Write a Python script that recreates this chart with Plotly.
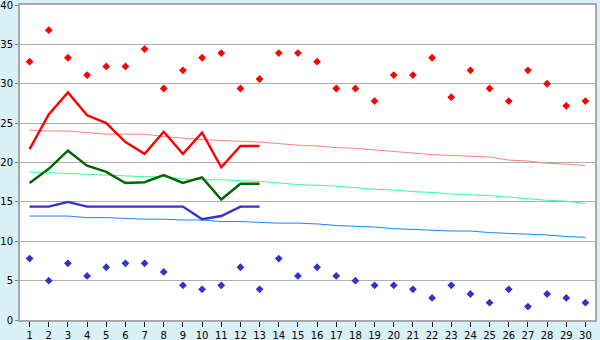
import plotly.graph_objects as go

days = list(range(1, 31))
high_pts = [32.8, 36.8, 33.3, 31.1, 32.2, 32.2, 34.4, 29.4, 31.7, 33.3,
            33.9, 29.4, 30.6, 33.9, 33.9, 32.8, 29.4, 29.4, 27.8, 31.1,
            31.1, 33.3, 28.3, 31.7, 29.4, 27.8, 31.7, 30.0, 27.2, 27.8]
low_pts = [7.8, 5.0, 7.2, 5.6, 6.7, 7.2, 7.2, 6.1, 4.4, 3.9,
           4.4, 6.7, 3.9, 7.8, 5.6, 6.7, 5.6, 5.0, 4.4, 4.4,
           3.9, 2.8, 4.4, 3.3, 2.2, 3.9, 1.7, 3.3, 2.8, 2.2]
high_line = [21.7, 26.1, 28.9, 26.0, 25.0, 22.6, 21.1, 23.9, 21.1, 23.8, 19.4, 22.1, 22.1]
mean_line = [17.4, 19.2, 21.5, 19.6, 18.8, 17.4, 17.5, 18.4, 17.4, 18.1, 15.3, 17.3, 17.3]
low_line = [14.4, 14.4, 15.0, 14.4, 14.4, 14.4, 14.4, 14.4, 14.4, 12.8, 13.2, 14.4, 14.4]
high_norm = [24.1, 24.0, 24.0, 23.8, 23.6, 23.6, 23.6, 23.3, 23.1, 22.9,
             22.8, 22.7, 22.6, 22.4, 22.2, 22.1, 21.9, 21.8, 21.6, 21.4,
             21.2, 21.0, 20.9, 20.8, 20.7, 20.3, 20.2, 19.9, 19.8, 19.6]
mean_norm = [18.8, 18.7, 18.6, 18.5, 18.4, 18.3, 18.2, 18.2, 17.9, 17.8,
             17.8, 17.7, 17.6, 17.4, 17.2, 17.1, 17.0, 16.8, 16.6, 16.5,
             16.3, 16.2, 16.0, 15.9, 15.8, 15.6, 15.4, 15.2, 15.1, 14.8]
low_norm = [13.2, 13.2, 13.2, 13.0, 13.0, 12.9, 12.8, 12.8, 12.7, 12.7,
            12.5, 12.5, 12.4, 12.3, 12.3, 12.2, 12.0, 11.9, 11.8, 11.6,
            11.5, 11.4, 11.3, 11.3, 11.1, 11.0, 10.9, 10.8, 10.6, 10.5]

x_labels = [str(d) for d in days]

fig = go.Figure()

def line(y, color, width):
    fig.add_trace(go.Scatter(x=x_labels[:len(y)], y=y, mode="lines",
                             line=dict(color=color, width=width),
                             hoverinfo="skip", showlegend=False))

line(high_norm, "#ff8080", 1)
line(mean_norm, "#33ff99", 1)
line(low_norm, "#1a85ff", 1)
line(high_line, "#ff0000", 2.4)
line(mean_line, "#006600", 2.4)
line(low_line, "#3333cc", 2.4)

fig.add_trace(go.Scatter(x=x_labels, y=high_pts, mode="markers",
                         marker=dict(symbol="diamond", size=6, color="#ff0000"),
                         showlegend=False))
fig.add_trace(go.Scatter(x=x_labels, y=low_pts, mode="markers",
                         marker=dict(symbol="diamond", size=6, color="#3333cc"),
                         showlegend=False))

fig.update_layout(
    width=600, height=340,
    margin=dict(l=20, r=5, t=5, b=20),
    paper_bgcolor="#d9f0f7",
    plot_bgcolor="#ffffff",
    font=dict(family="DejaVu Sans", size=10, color="#000000"),
)
fig.update_xaxes(type="category", categoryorder="array", categoryarray=x_labels,
                 showgrid=False, showline=True, linecolor="#a8a8a8", linewidth=2,
                 mirror=True, ticks="outside", ticklen=5, tickcolor="#000000",
                 tickfont=dict(size=10), range=[-0.5, 29.5], automargin=False,
                 ticklabelstandoff=0, ticklabeloverflow="allow")
fig.update_yaxes(range=[0, 40], dtick=5, showgrid=True, gridcolor="#b0b0b0",
                 gridwidth=1, showline=True, linecolor="#a8a8a8", linewidth=2,
                 mirror=True, ticks="outside", ticklen=3, tickcolor="#808080",
                 zeroline=False, tickfont=dict(size=10), automargin=False,
                 ticklabelstandoff=0, ticklabeloverflow="allow")

fig.write_html("out.html", config={"displayModeBar": False},
               post_script="document.body.style.margin='0';document.body.style.overflow='hidden';")
